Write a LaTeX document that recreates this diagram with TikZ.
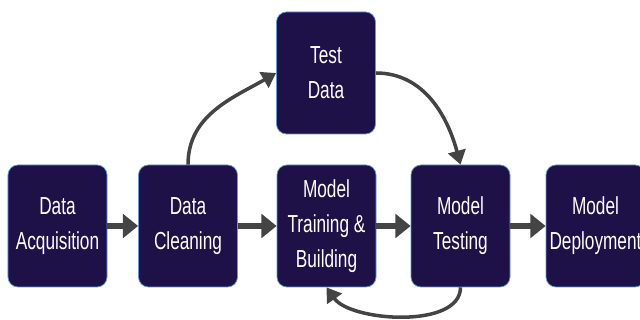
\documentclass[tikz,border=0pt]{standalone}
\usepackage{fontspec}
\setmainfont{Liberation Sans}[FakeStretch=0.7]
\usetikzlibrary{arrows.meta}
\definecolor{boxfill}{RGB}{30,17,72}
\definecolor{boxedge}{RGB}{100,150,220}
\definecolor{arrowgray}{RGB}{68,68,68}

\begin{document}
\begin{tikzpicture}[x=0.03cm, y=0.03cm,
    stage/.style={draw=boxedge, line width=0.6pt, fill=boxfill,
      rounded corners=0.3cm, minimum width=2.97cm, minimum height=3.66cm,
      inner sep=0pt, text=white, align=center,
      font=\fontsize{21}{30}\selectfont},
    flow/.style={draw=arrowgray, line width=5pt,
      -{Triangle[length=13pt,width=20pt]}},
    loopback/.style={draw=arrowgray, line width=3pt,
      -{Triangle[length=12pt,width=15pt]}}]
  \useasboundingbox (0,0) rectangle (640,320);
  \node[stage] (acq) at (57.5,94) {Data\\Acquisition};
  \node[stage] (clean) at (188,94) {Data\\Cleaning};
  \node[stage] (train) at (326.5,94) {Model\\Training \&\\Building};
  \node[stage] (test) at (460.5,94) {Model\\Testing};
  \node[stage] (deploy) at (595.5,94) {Model\\Deployment};
  \node[stage] (testdata) at (326,247) {Test\\Data};
  \draw[flow] (acq) -- (clean);
  \draw[flow] (clean) -- (train);
  \draw[flow] (train) -- (test);
  \draw[flow] (test) -- (deploy);
  \draw[loopback] (clean.north) to[out=90, in=210] (testdata.west);
  \draw[loopback] (testdata.east) to[out=0, in=105] (test.north);
  \draw[loopback] (test.south) to[out=-90, in=-55, looseness=0.8] (train.south);
\end{tikzpicture}
\end{document}
